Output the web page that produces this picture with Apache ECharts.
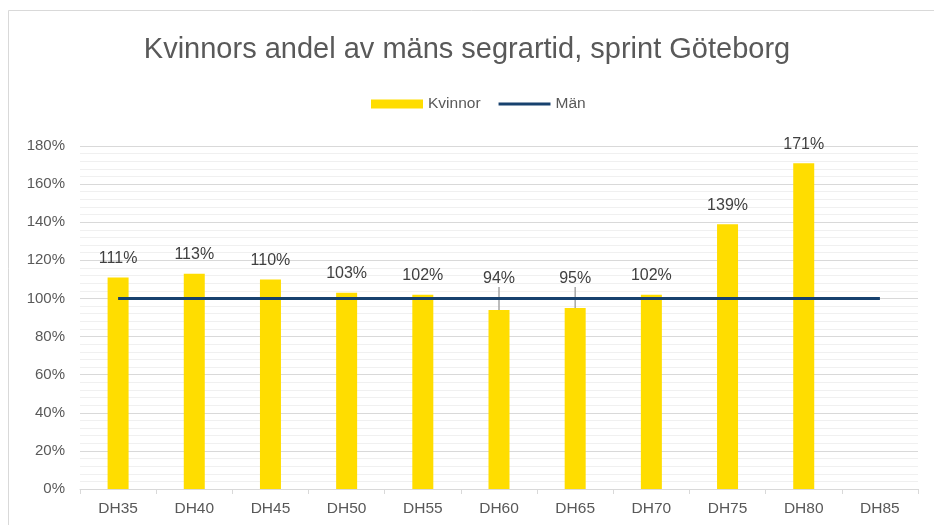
<!DOCTYPE html>
<html>
<head>
<meta charset="utf-8">
<script src="https://cdn.jsdelivr.net/npm/echarts@6/dist/echarts.min.js"></script>
<style>
  html, body { margin: 0; padding: 0; background: #fff; }
  #chart { width: 934px; height: 525px; }
</style>
</head>
<body>
<div id="chart"></div>
<script>
// Age classes and the women's winning time as a share of the men's
const categories = ['DH35', 'DH40', 'DH45', 'DH50', 'DH55', 'DH60', 'DH65', 'DH70', 'DH75', 'DH80', 'DH85'];
const kvinnor = [111, 113, 110, 103, 102, 94, 95, 102, 139, 171, null];
const man = [100, 100, 100, 100, 100, 100, 100, 100, 100, 100, 100];
const yTicks = [0, 20, 40, 60, 80, 100, 120, 140, 160, 180];

const textColor = '#595959';
const font = 'Arial, "Liberation Sans", sans-serif';

// Labels that would sit under the men's line are lifted above it, with a guide line
const liftedLabels = { 5: -12, 6: -10 };

const barData = kvinnor.map((v, i) => (
  liftedLabels[i] !== undefined
    ? { value: v, labelLine: { show: true } }
    : { value: v }
));

// Thin bar-shaped legend glyph for the line series (invisible hairlines widen its box)
const lineIcon = 'path://M0,0L52,0L52,0.01Z M0,3L52,3L52,6L0,6Z M0,9L52,9L52,9.01Z';

const chart = echarts.init(document.getElementById('chart'), null, { renderer: 'canvas' });

chart.setOption({
  animation: false,
  backgroundColor: '#fff',
  textStyle: { fontFamily: font },
  graphic: [{
    type: 'rect',
    shape: { x: 8.5, y: 10.5, width: 940, height: 540 },
    style: { fill: 'none', stroke: '#D9D9D9', lineWidth: 1 },
    silent: true, z: -1
  }],
  title: {
    text: 'Kvinnors andel av mäns segrartid, sprint Göteborg',
    left: 'center',
    top: 30,
    textStyle: { fontFamily: font, fontSize: 29, fontWeight: 'normal', color: textColor }
  },
  legend: {
    top: 91,
    left: 366,
    itemGap: 18,
    itemWidth: 52,
    itemHeight: 9,
    textStyle: { fontFamily: font, fontSize: 15.5, color: textColor },
    data: [
      { name: 'Kvinnor', icon: 'rect' },
      { name: 'Män', icon: lineIcon }
    ]
  },
  grid: { left: 80, right: 16, top: 146, bottom: 36, containLabel: false },
  xAxis: {
    type: 'category',
    data: categories,
    boundaryGap: true,
    axisLine: { lineStyle: { color: '#D9D9D9', width: 1 } },
    axisTick: { show: true, length: 5, lineStyle: { color: '#D9D9D9' } },
    axisLabel: { color: textColor, fontSize: 15.5, fontFamily: font, margin: 12 }
  },
  yAxis: {
    type: 'value',
    min: yTicks[0],
    max: yTicks[yTicks.length - 1],
    interval: 20,
    axisLine: { show: false },
    axisTick: { show: false },
    axisLabel: { color: textColor, fontSize: 15, fontFamily: font, margin: 15, formatter: v => v + '%' },
    splitLine: { lineStyle: { color: '#D9D9D9', width: 1 } },
    minorTick: { show: false, splitNumber: 5 },
    minorSplitLine: { show: true, lineStyle: { color: '#F0F0F0', width: 1 } }
  },
  series: [
    {
      name: 'Kvinnor',
      type: 'bar',
      data: barData,
      barWidth: 21,
      itemStyle: { color: '#FFDD00' },
      label: {
        show: true,
        position: 'top',
        distance: 11,
        color: '#404040',
        fontSize: 16,
        fontFamily: font,
        formatter: p => p.value + '%'
      },
      labelLine: { show: false, lineStyle: { color: '#A6A6A6', width: 1.5 } },
      labelLayout: p => (liftedLabels[p.dataIndex] !== undefined ? { dy: liftedLabels[p.dataIndex] } : {}),
      z: 2
    },
    {
      name: 'Män',
      type: 'line',
      data: man,
      symbol: 'none',
      lineStyle: { color: '#17416E', width: 3 },
      itemStyle: { color: '#17416E' },
      z: 3
    }
  ]
});
</script>
</body>
</html>
